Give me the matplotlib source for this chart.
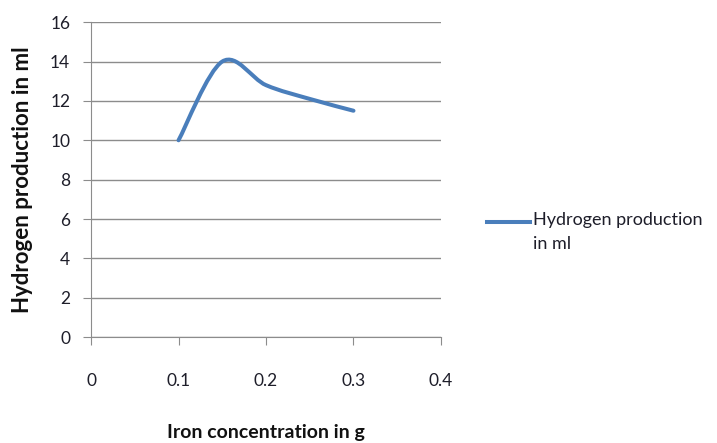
import numpy as np
import matplotlib.pyplot as plt
from matplotlib.path import Path
from matplotlib.patches import PathPatch
from matplotlib.lines import Line2D

# ── Data ───────────────────────────────────────────────────────────────────
iron_g = [0.10, 0.15, 0.20, 0.25, 0.30]
hydrogen_ml = [10.0, 14.0, 12.8, 12.1, 11.5]
x_ticks = [0, 0.1, 0.2, 0.3, 0.4]
x_tick_labels = ["0", "0.1", "0.2", "0.3", "0.4"]
y_ticks = [0, 2, 4, 6, 8, 10, 12, 14, 16]

plt.rcParams["font.family"] = ["Lato", "DejaVu Sans"]
line_color = "#4A7EBB"
grid_color = "#8C8C8C"
text_color = "#1E1E2A"


def smooth_path(xs, ys, tension=1 / 6):
    # Catmull-Rom style bezier through the points (like Excel "smoothed line")
    pts = np.column_stack([xs, ys])
    verts = [pts[0]]
    codes = [Path.MOVETO]
    n = len(pts)
    for i in range(n - 1):
        p0 = pts[max(i - 1, 0)]
        p1 = pts[i]
        p2 = pts[i + 1]
        p3 = pts[min(i + 2, n - 1)]
        c1 = p1 + (p2 - p0) * tension
        c2 = p2 - (p3 - p1) * tension
        verts += [c1, c2, p2]
        codes += [Path.CURVE4] * 3
    return Path(verts, codes)


# ── Plot ───────────────────────────────────────────────────────────────────
fig = plt.figure(figsize=(7.17, 4.43), dpi=100)
ax = fig.add_axes([0.127, 0.239, 0.488, 0.711])

patch = PathPatch(smooth_path(iron_g, hydrogen_ml), facecolor="none",
                  edgecolor=line_color, lw=2.9, capstyle="round", zorder=3)
ax.add_patch(patch)

ax.set_xlim(0, 0.4)
ax.set_ylim(0, 16)
ax.set_xticks(x_ticks)
ax.set_xticklabels(x_tick_labels)
ax.set_yticks(y_ticks)

ax.grid(axis="y", color=grid_color, lw=1)
ax.set_axisbelow(True)
for s in ["top", "right"]:
    ax.spines[s].set_visible(False)
for s in ["left", "bottom"]:
    ax.spines[s].set_color(grid_color)
ax.tick_params(axis="both", colors=grid_color, length=6, labelcolor=text_color,
               labelsize=12.5)
ax.tick_params(axis="y", pad=9)
ax.tick_params(axis="x", pad=20)

ax.set_xlabel("Iron concentration in g", fontsize=14, fontweight="bold",
              labelpad=25, color="#111111")
ax.set_ylabel("Hydrogen production in ml", fontsize=16, fontweight="bold",
              labelpad=12, color="#111111")

# legend: short line with a two-line label next to it
fig.add_artist(Line2D([487 / 717, 530 / 717], [1 - 222 / 443] * 2,
                      color=line_color, lw=2.9))
fig.text(533 / 717, 1 - 212 / 443, "Hydrogen production\nin ml", fontsize=13,
         color=text_color, va="top", ha="left", linespacing=1.65,
         transform=fig.transFigure)

plt.savefig("out.png", dpi=100)
